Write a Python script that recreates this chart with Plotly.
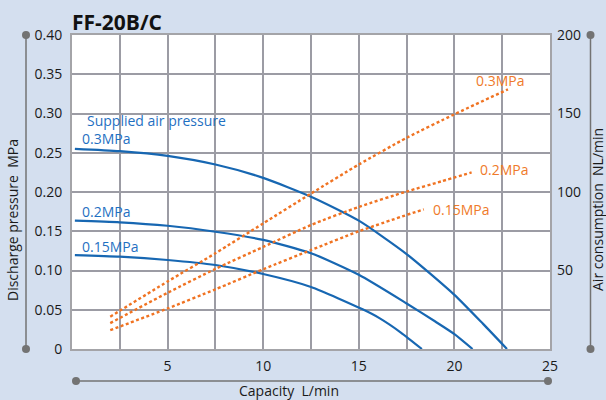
import plotly.graph_objects as go

# ---- data ----
cap_03 = [0.15, 2.5, 5, 7.5, 10, 12.5, 15, 17.5, 20, 21.5, 22.75]
p_03 = [0.255, 0.252, 0.246, 0.235, 0.218, 0.194, 0.1635, 0.121, 0.069, 0.032, 0.0]

cap_02 = [0.15, 2.5, 5, 7.5, 10, 12.5, 15, 17.5, 19, 20, 20.95]
p_02 = [0.1635, 0.1614, 0.157, 0.1494, 0.139, 0.122, 0.0945, 0.058, 0.035, 0.019, 0.0]

cap_015 = [0.15, 2.5, 5, 7.5, 10, 12.5, 15.2, 16.1, 17.2, 18.3]
p_015 = [0.1197, 0.1176, 0.1134, 0.107, 0.0955, 0.079, 0.0505, 0.039, 0.021, 0.0]

air_cap_03 = [2.0, 5, 7.5, 10, 12.5, 15, 17.5, 20, 22.8]
air_03 = [20.6, 43, 61, 80, 99, 117.5, 134.5, 149.5, 165.4]

air_cap_02 = [2.0, 5, 7.5, 10, 12.5, 15, 17.5, 19.3, 20.9]
air_02 = [16.5, 35.8, 51, 65, 79, 90.5, 100.3, 106.7, 112.5]

air_cap_015 = [2.0, 5, 7.5, 10, 12.5, 15, 18.4]
air_015 = [12, 25.8, 38, 50.8, 63, 75, 89]

x_tickvals = [0, 2.5, 5, 7.5, 10, 12.5, 15, 17.5, 20, 22.5, 25]
x_ticktext = ["", "", "5", "", "10", "", "15", "", "20", "", "25"]
y_tickvals = [0, 0.05, 0.10, 0.15, 0.20, 0.25, 0.30, 0.35, 0.40]
y_ticktext = ["0", "0.05", "0.10", "0.15", "0.20", "0.25", "0.30", "0.35", "0.40"]
y2_tickvals = [50, 100, 150, 200]
y2_ticktext = ["50", "100", "150", "200"]

BLUE = "#1767b2"
BLUE_TXT = "#1f70c2"
ORANGE = "#f07322"
ORANGE_TXT = "#ef7a2a"
BG = "#d4dfef"
GRID = "#9c9ca4"
DECO = "#737373"
FONT = "Open Sans"

fig = go.Figure()

for cx, cy in [(cap_03, p_03), (cap_02, p_02), (cap_015, p_015)]:
    fig.add_trace(go.Scatter(x=cx, y=cy, mode="lines",
                             line=dict(color=BLUE, width=2.2, shape="spline", smoothing=0.6),
                             hoverinfo="skip"))

for cx, cy in [(air_cap_03, air_03), (air_cap_02, air_02), (air_cap_015, air_015)]:
    fig.add_trace(go.Scatter(x=cx, y=cy, mode="lines", yaxis="y2",
                             line=dict(color=ORANGE, width=2.4, dash="3px,2.5px", shape="spline", smoothing=0.6),
                             hoverinfo="skip"))

W, H = 606, 400
L, R, T, B = 72, 56, 35, 51
PW, PH = W - L - R, H - T - B


def px_x(px):
    return (px - L) / PW


def px_y(py):
    return (H - B - py) / PH


fig.update_layout(
    width=W, height=H,
    margin=dict(l=L, r=R, t=T, b=B),
    paper_bgcolor=BG, plot_bgcolor="white",
    showlegend=False,
    font=dict(family=FONT, size=14, color="#1a1a1a"),
    xaxis=dict(range=[0, 25], tickvals=x_tickvals, ticktext=x_ticktext, showgrid=True,
               gridcolor=GRID, gridwidth=1.5, zeroline=False, showline=True, mirror=True,
               linecolor="#a4a4a8", linewidth=2, ticks="", ticklabelstandoff=3,
               tickfont=dict(size=14)),
    yaxis=dict(range=[0, 0.40], tickvals=y_tickvals, ticktext=y_ticktext, showgrid=True,
               gridcolor=GRID, gridwidth=1.5, zeroline=False, showline=True, mirror=True,
               linecolor="#a4a4a8", linewidth=2, ticks="", ticklabelstandoff=5,
               tickfont=dict(size=14)),
    yaxis2=dict(range=[0, 200], tickvals=y2_tickvals, ticktext=y2_ticktext, overlaying="y",
                side="right", showgrid=False, zeroline=False, showline=False, ticks="",
                ticklabelstandoff=6, tickfont=dict(size=14)),
)

shapes = []
shapes.append(dict(type="line", xref="paper", yref="paper", x0=px_x(26), x1=px_x(26), y0=0, y1=1,
                   line=dict(color=DECO, width=1.5)))
shapes.append(dict(type="line", xref="paper", yref="paper", x0=px_x(590.5), x1=px_x(590.5), y0=0, y1=1,
                   line=dict(color=DECO, width=1.5)))
shapes.append(dict(type="line", xref="paper", yref="paper", x0=px_x(76), x1=px_x(548), y0=px_y(381), y1=px_y(381),
                   line=dict(color=DECO, width=1.5)))
for (dx, dy) in [(26, 35), (26, 349), (590.5, 35), (590.5, 349), (76, 381), (548, 381)]:
    shapes.append(dict(type="circle", xref="paper", yref="paper", xsizemode="pixel", ysizemode="pixel",
                       xanchor=px_x(dx), yanchor=px_y(dy), x0=-4, x1=4, y0=-4, y1=4,
                       fillcolor=DECO, line=dict(width=0)))
fig.update_layout(shapes=shapes)

ann = []
ann.append(dict(text="<b>FF-20B/C</b>", xref="paper", yref="paper", x=px_x(70), y=px_y(22),
                xanchor="left", yanchor="middle", showarrow=False, font=dict(size=21, color="#111")))
ann.append(dict(text="Discharge pressure  MPa", xref="paper", yref="paper", x=px_x(12), y=px_y(220),
                textangle=-90, xanchor="center", yanchor="middle", showarrow=False, font=dict(size=14)))
ann.append(dict(text="Air consumption  NL/min", xref="paper", yref="paper", x=px_x(597), y=px_y(210),
                textangle=-90, xanchor="center", yanchor="middle", showarrow=False, font=dict(size=14)))
ann.append(dict(text="Capacity  L/min", xref="paper", yref="paper", x=px_x(289), y=px_y(390),
                xanchor="center", yanchor="middle", showarrow=False, font=dict(size=14)))

blue_labels = [("Supplied air pressure", 86, 120.5), ("0.3MPa", 81, 138), ("0.2MPa", 81, 211), ("0.15MPa", 81, 246)]
for t, lx, ly in blue_labels:
    ann.append(dict(text=t, xref="paper", yref="paper", x=px_x(lx), y=px_y(ly), xanchor="left", yanchor="middle",
                    showarrow=False, font=dict(size=14, color=BLUE_TXT), borderpad=0))
orange_labels = [("0.3MPa", 475, 80), ("0.2MPa", 479, 169), ("0.15MPa", 432, 209)]
for t, lx, ly in orange_labels:
    ann.append(dict(text=t, xref="paper", yref="paper", x=px_x(lx), y=px_y(ly), xanchor="left", yanchor="middle",
                    showarrow=False, font=dict(size=14, color=ORANGE_TXT), borderpad=0))
fig.update_layout(annotations=ann)

fig.write_html("out.html", config={"displayModeBar": False},
               post_script="document.body.style.margin='0';document.body.style.padding='0';")
